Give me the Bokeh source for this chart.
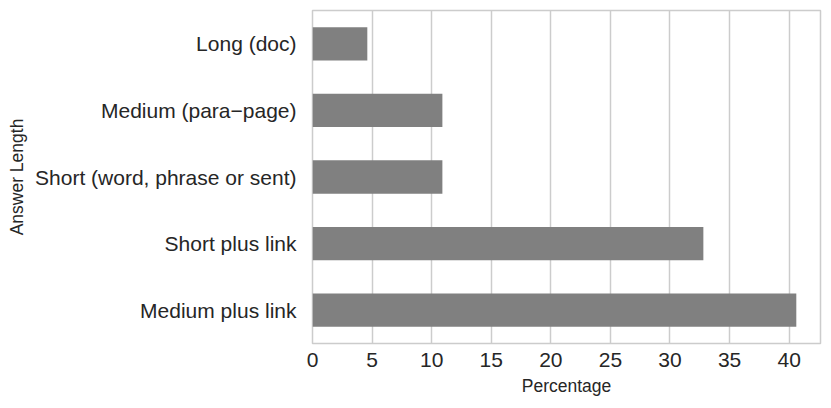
from bokeh.plotting import figure
from bokeh.models import FactorRange, Range1d, FixedTicker
from bokeh.embed import file_html
from bokeh.resources import INLINE

categories = ["Medium plus link", "Short plus link", "Short (word, phrase or sent)",
              "Medium (para\u2212page)", "Long (doc)"]
percentages = [40.6, 32.8, 10.9, 10.9, 4.6]
x_ticks = [0, 5, 10, 15, 20, 25, 30, 35, 40]

FONT = "Liberation Sans"
TEXT = "#262626"
GRID = "#cccccc"

p = figure(width=823, height=400, output_backend="svg", toolbar_location=None,
           y_range=FactorRange(*categories), x_range=Range1d(0, 42.63),
           min_border_left=312, min_border_right=3, min_border_top=10, min_border_bottom=57)

p.hbar(y=categories, right=percentages, height=0.5, fill_color="#808080", line_color=None)

p.outline_line_color = GRID
p.outline_line_width = 1.5
p.ygrid.grid_line_color = None
p.xgrid.grid_line_color = GRID
p.xgrid.grid_line_width = 1.5
p.xaxis.ticker = FixedTicker(ticks=x_ticks)

for ax in (p.xaxis[0], p.yaxis[0]):
    ax.axis_line_color = None
    ax.major_tick_line_color = None
    ax.minor_tick_line_color = None
    ax.major_label_text_font = FONT
    ax.major_label_text_font_size = "21px"
    ax.major_label_text_color = TEXT
    ax.axis_label_text_font = FONT
    ax.axis_label_text_font_size = "17.5px"
    ax.axis_label_text_font_style = "normal"
    ax.axis_label_text_color = TEXT

p.xaxis.axis_label = "Percentage"
p.yaxis.axis_label = "Answer Length"
p.xaxis.major_label_standoff = 3
p.xaxis.axis_label_standoff = 6
p.yaxis.major_label_standoff = 10
p.yaxis.axis_label_standoff = 5

open("out.html", "w").write(file_html(p, INLINE))
